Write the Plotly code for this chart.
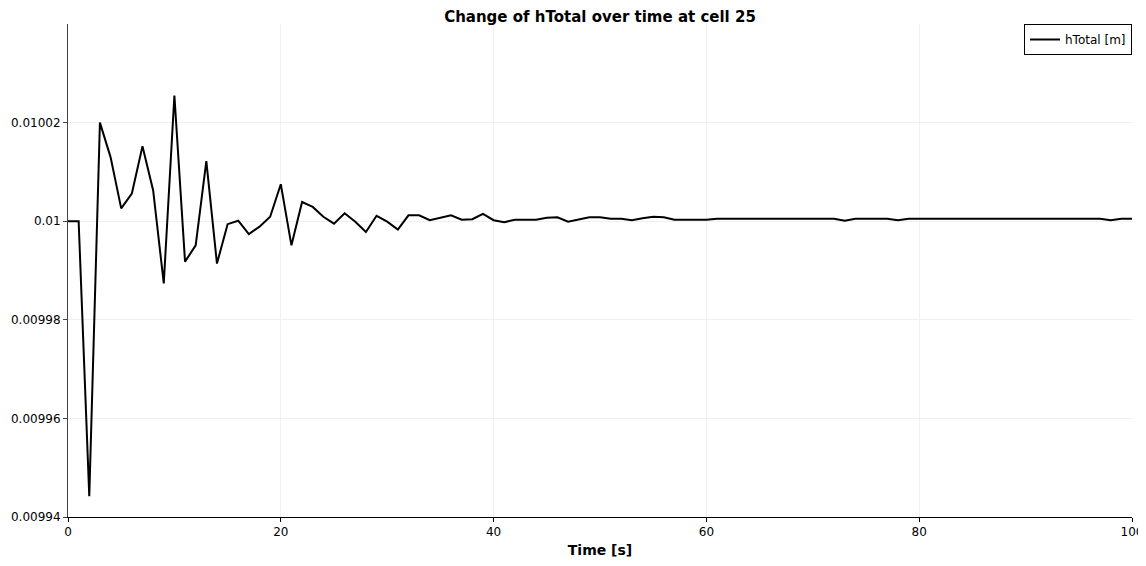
import plotly.graph_objects as go

time_s = list(range(0, 101))

h_total = [
    0.0100000, 0.0100000, 0.0099442, 0.0100200, 0.0100130, 0.0100026, 0.0100056, 0.0100152, 0.0100063, 0.0099874,
    0.0100255, 0.0099918, 0.0099951, 0.0100122, 0.0099914, 0.0099994, 0.0100001, 0.0099974, 0.0099989, 0.0100009,
    0.0100075, 0.0099951, 0.0100039, 0.0100029, 0.0100009, 0.0099995, 0.0100016, 0.0099999, 0.0099978, 0.0100011,
    0.0099999, 0.0099983, 0.0100012, 0.0100012, 0.0100002, 0.0100007, 0.0100012, 0.0100003, 0.0100004, 0.0100015,
    0.0100002, 0.0099998, 0.0100003, 0.0100003, 0.0100003, 0.0100007, 0.0100008, 0.0099999, 0.0100004, 0.0100008,
    0.0100008, 0.0100005, 0.0100005, 0.0100002, 0.0100006, 0.0100009, 0.0100008, 0.0100003, 0.0100003, 0.0100003,
    0.0100003, 0.0100005, 0.0100005, 0.0100004, 0.0100005, 0.0100005, 0.0100005, 0.0100005, 0.0100005, 0.0100005,
    0.0100005, 0.0100005, 0.0100005, 0.0100001, 0.0100005, 0.0100005, 0.0100005, 0.0100005, 0.0100002, 0.0100005,
    0.0100005, 0.0100005, 0.0100005, 0.0100005, 0.0100005, 0.0100005, 0.0100005, 0.0100005, 0.0100005, 0.0100005,
    0.0100005, 0.0100005, 0.0100004, 0.0100005, 0.0100005, 0.0100005, 0.0100005, 0.0100005, 0.0100002, 0.0100005,
    0.0100005,
]

y_ticks = [0.00994, 0.00996, 0.00998, 0.01, 0.01002]
y_tick_text = ["0.00994", "0.00996", "0.00998", "0.01", "0.01002"]
x_ticks = [0, 20, 40, 60, 80, 100]

fig = go.Figure()
fig.add_trace(go.Scatter(
    x=time_s, y=h_total, mode="lines", name="hTotal [m]",
    line=dict(color="black", width=2),
))

# page body has an 8px default margin, so the figure is sized to fit the window
fig.update_layout(
    width=1138, height=550,
    margin=dict(l=60, r=14, t=16, b=41, autoexpand=False),
    paper_bgcolor="white", plot_bgcolor="white",
    font=dict(family="DejaVu Sans", size=12, color="black"),
    title=dict(text="<b>Change of hTotal over time at cell 25</b>",
               xref="paper", x=0.5, xanchor="center",
               yref="container", y=0.9836, yanchor="middle",
               font=dict(size=15, color="black")),
    showlegend=True,
    legend=dict(x=1, y=1, xanchor="right", yanchor="top",
                bordercolor="black", borderwidth=1, bgcolor="white",
                font=dict(size=12), tracegroupgap=0),
    xaxis=dict(
        range=[0, 100], tickvals=x_ticks, automargin=False,
        ticklabeloverflow="allow",
        title=dict(text="<b>Time [s]</b>", font=dict(size=14), standoff=10),
        showline=True, linecolor="black", linewidth=1,
        ticks="outside", ticklen=4, tickcolor="black",
        showgrid=True, gridcolor="#f0f0f0", gridwidth=1,
        zeroline=False,
    ),
    yaxis=dict(
        range=[0.00994, 0.01004], tickvals=y_ticks, ticktext=y_tick_text,
        automargin=False,
        showline=True, linecolor="#444", linewidth=1,
        ticks="outside", ticklen=4, tickcolor="#444",
        showgrid=True, gridcolor="#f0f0f0", gridwidth=1,
        zeroline=False,
    ),
)

fig.write_html("out.html")
